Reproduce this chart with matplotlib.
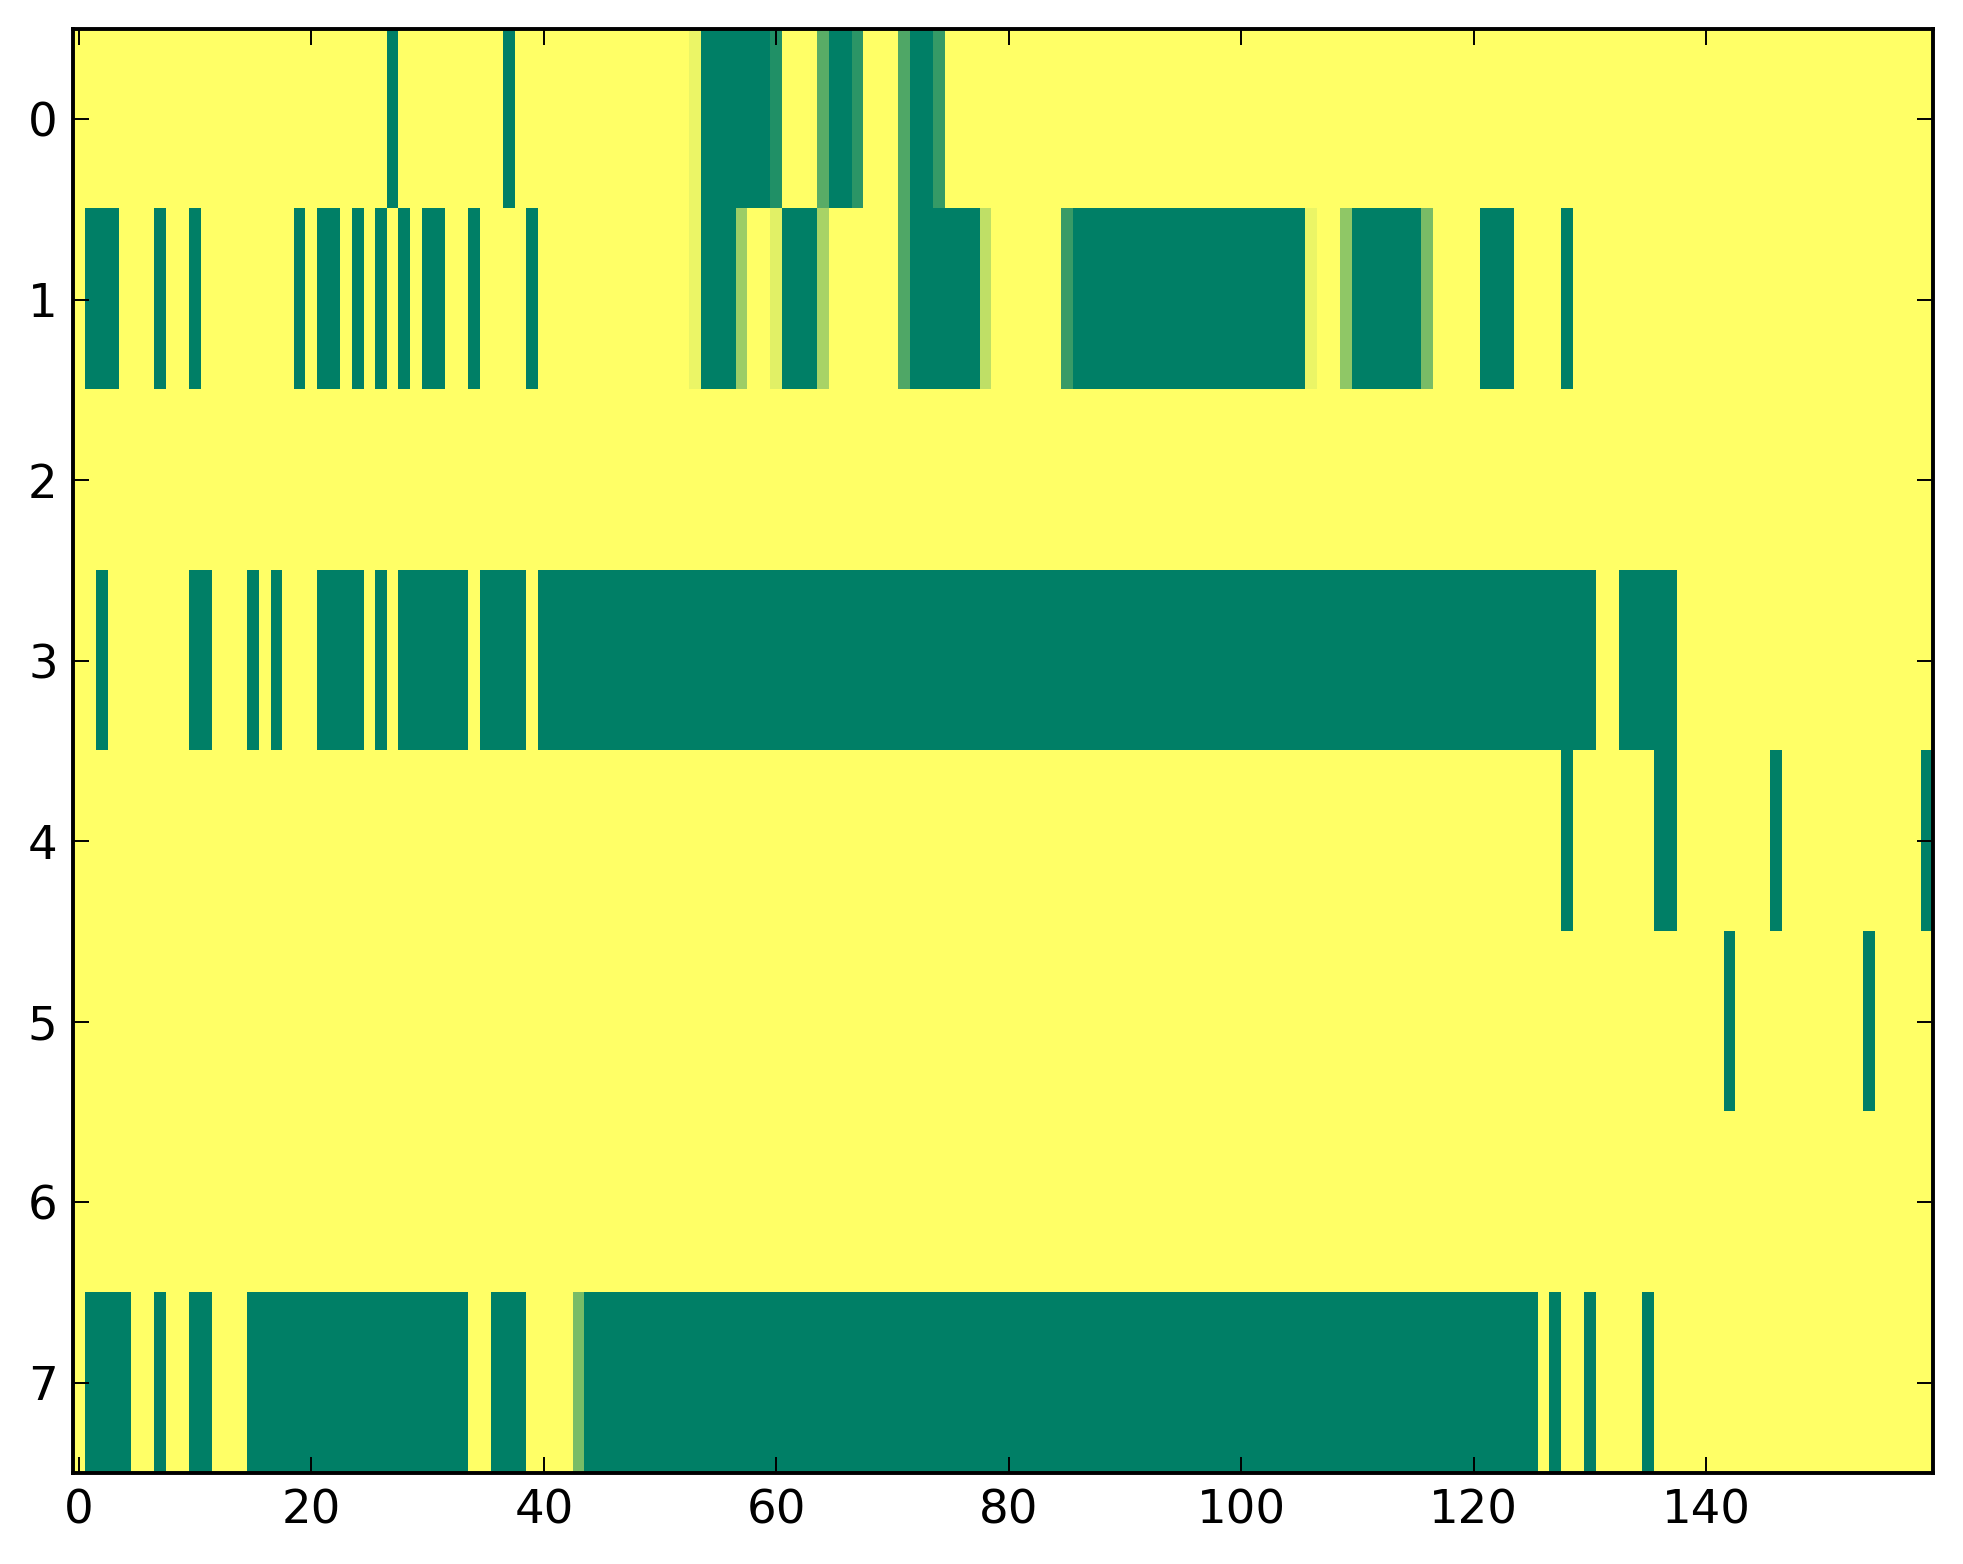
import numpy as np
import matplotlib
matplotlib.use("Agg")
import matplotlib.pyplot as plt

# Grid size
n_rows = 8
n_cols = 160

# Cell runs per row: (first column, last column, value)
row0_runs = [(27, 27, 1.0), (37, 37, 1.0), (53, 53, 0.08), (54, 59, 1.0), (60, 60, 0.87),
             (64, 64, 0.65), (65, 66, 1.0), (67, 67, 0.83), (71, 71, 0.69), (72, 73, 1.0),
             (74, 74, 0.79)]
row1_runs = [(1, 3, 1.0), (7, 7, 1.0), (10, 10, 1.0), (19, 19, 1.0), (21, 22, 1.0),
             (24, 24, 1.0), (26, 26, 1.0), (28, 28, 1.0), (30, 31, 1.0), (34, 34, 1.0),
             (39, 39, 1.0), (53, 53, 0.08), (54, 56, 1.0), (57, 57, 0.39), (60, 60, 0.12),
             (61, 63, 1.0), (64, 64, 0.34), (71, 71, 0.69), (72, 77, 1.0), (78, 78, 0.25),
             (85, 85, 0.78), (86, 105, 1.0), (106, 106, 0.08), (109, 109, 0.44),
             (110, 115, 1.0), (116, 116, 0.52), (121, 123, 1.0), (128, 128, 1.0)]
row2_runs = []
row3_runs = [(2, 2, 1.0), (10, 11, 1.0), (15, 15, 1.0), (17, 17, 1.0), (21, 24, 1.0),
             (26, 26, 1.0), (28, 33, 1.0), (35, 38, 1.0), (40, 130, 1.0), (133, 137, 1.0)]
row4_runs = [(128, 128, 1.0), (136, 137, 1.0), (146, 146, 1.0), (159, 159, 1.0)]
row5_runs = [(142, 142, 1.0), (154, 154, 1.0)]
row6_runs = []
row7_runs = [(1, 4, 1.0), (7, 7, 1.0), (10, 11, 1.0), (15, 33, 1.0), (36, 38, 1.0),
             (43, 43, 0.52), (44, 125, 1.0), (127, 127, 1.0), (130, 130, 1.0),
             (135, 135, 1.0)]

all_runs = [row0_runs, row1_runs, row2_runs, row3_runs,
            row4_runs, row5_runs, row6_runs, row7_runs]

x_ticks = [0, 20, 40, 60, 80, 100, 120, 140]
y_ticks = [0, 1, 2, 3, 4, 5, 6, 7]

data = np.zeros((n_rows, n_cols))
for r, runs in enumerate(all_runs):
    for a, b, v in runs:
        data[r, a:b + 1] = v

plt.rcParams.update({
    "font.family": ["DejaVu Sans"],
    "font.size": 12,
    "xtick.direction": "in",
    "ytick.direction": "in",
    "xtick.top": True,
    "ytick.right": True,
    "xtick.major.size": 4,
    "ytick.major.size": 4,
    "xtick.major.width": 0.5,
    "ytick.major.width": 0.5,
    "xtick.major.pad": 4,
    "ytick.major.pad": 4,
    "axes.linewidth": 1.0,
})

dpi = 280
fig = plt.figure(figsize=(1963 / dpi, 1564 / dpi), dpi=dpi, facecolor="white")
ax = fig.add_axes([0.0373, 0.0582, 0.9474, 0.9233])
ax.imshow(data, cmap="summer_r", vmin=0, vmax=1, interpolation="nearest", aspect="auto")
ax.set_xticks(x_ticks)
ax.set_yticks(y_ticks)
ax.tick_params(axis="both", which="major", labelsize=12)
fig.savefig("out.png", dpi=dpi, facecolor="white")
